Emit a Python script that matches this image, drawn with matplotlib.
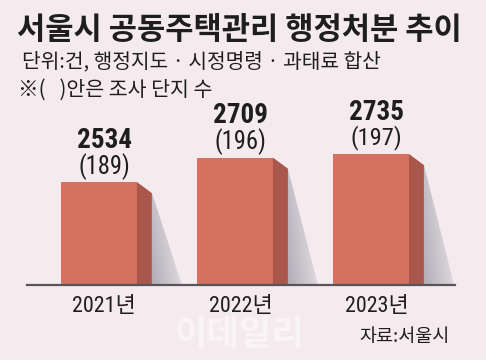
import matplotlib
matplotlib.use('Agg')
import matplotlib.pyplot as plt
import numpy as np
from matplotlib.patches import Polygon

# ---- data ----
years = ['2021년', '2022년', '2023년']
cases = [2534, 2709, 2735]
complexes = [189, 196, 197]
title = '서울시 공동주택관리 행정처분 추이'
subtitle = '단위:건, 행정지도 · 시정명령 · 과태료 합산'
note = '※(   )안은 조사 단지 수'
source = '자료:서울시'
watermark = '이데일리'

W, H = 486, 360
BG = '#f5ebef'
FRONT = '#d4725f'
SIDE = '#a9574a'
TXT = '#1e1e1e'
KR = ['Noto Sans CJK KR', 'DejaVu Sans']
NUM = ['Roboto Condensed', 'Noto Sans CJK KR', 'DejaVu Sans']

fig = plt.figure(figsize=(W / 100, H / 100), dpi=100)
fig.patch.set_facecolor(BG)
renderer = fig.canvas.get_renderer()

def fit(t, target_w):
    for _ in range(4):
        w = t.get_window_extent(renderer).width
        t.set_fontsize(t.get_fontsize() * target_w / w)
    return t

def ftext(x, y, s, target_w, **kw):
    t = fig.text(x / W, 1 - y / H, s, **kw)
    return fit(t, target_w)

# ---- axes ----
ylo, yhi = 1797, 3838
ax = fig.add_axes([27 / W, (H - 285) / H, 428 / W, 285 / H])
ax.axis('off')
ax.patch.set_alpha(0)

x = np.arange(len(cases))
bw = 0.559
depth = 0.11
drop = 79
shadow = 0.22

ax.bar(x, cases, width=bw, color=FRONT, zorder=3)

# gradient for shadows
gx = np.linspace(0, 1, 64)
gy = np.linspace(0, 1, 64)
GX, GY = np.meshgrid(gx, gy)
tval = np.clip(0.75 * GX + 0.35 * (1 - GY), 0, 1)
dark = np.array([0.70, 0.68, 0.71])
light = np.array([0.92, 0.90, 0.92])
img = dark[None, None, :] * (1 - tval[..., None]) + light[None, None, :] * tval[..., None]

for xi, v in zip(x, cases):
    xr = xi + bw / 2
    side = Polygon([(xr, ylo), (xr, v), (xr + depth, v - drop), (xr + depth, ylo)],
                   closed=True, facecolor=SIDE, edgecolor='none', zorder=3)
    ax.add_patch(side)
    sh = Polygon([(xr + depth, v - drop), (xr + depth, ylo), (xr + depth + shadow, ylo)],
                 closed=True, facecolor='none', edgecolor='none', zorder=2)
    ax.add_patch(sh)
    im = ax.imshow(img, extent=(xr + depth, xr + depth + shadow, ylo, v - drop),
                   origin='upper', aspect='auto', zorder=2, interpolation='bilinear')
    im.set_clip_path(sh)

ax.axhline(ylo, color='#56545a', lw=1.6, clip_on=False, zorder=4)
ax.set_xlim(-0.529, 2.618)
ax.set_ylim(ylo, yhi)

# ---- labels ----
off = 0.04
for xi, v, c, yr in zip(x, cases, complexes, years):
    t1 = ax.annotate(f'{v}', xy=(xi + off, v), xytext=(0, 42 * 0.72), textcoords='offset points',
                     ha='center', va='center', fontweight='bold', family=NUM, color=TXT,
                     fontsize=16, zorder=5)
    fit(t1, 55)
    t2 = ax.annotate(f'({c})', xy=(xi + off, v), xytext=(0, 16 * 0.72), textcoords='offset points',
                     ha='center', va='center', family=NUM, color=TXT, fontsize=15, zorder=5)
    fit(t2, 52)
    t3 = ax.annotate(yr, xy=(xi + off, ylo), xytext=(0, -22 * 0.72), textcoords='offset points',
                     ha='center', va='center', family=NUM, color=TXT, fontsize=14, zorder=5,
                     annotation_clip=False)
    fit(t3, 64)

# watermark (faint)
ftext(240, 334, watermark, 130, ha='center', va='center', family=KR, fontweight='bold',
      color='white', alpha=0.45, zorder=1)

ftext(17, 30, title, 446, ha='left', va='center', family=KR, fontweight='bold', color=TXT)
ftext(22, 62, subtitle, 360, ha='left', va='center', family=KR, color=TXT)
ftext(18, 90, note, 195, ha='left', va='center', family=KR, color=TXT)
ftext(450, 337, source, 90, ha='right', va='center', family=KR, color=TXT)

fig.savefig('out.png', dpi=100, facecolor=BG)
